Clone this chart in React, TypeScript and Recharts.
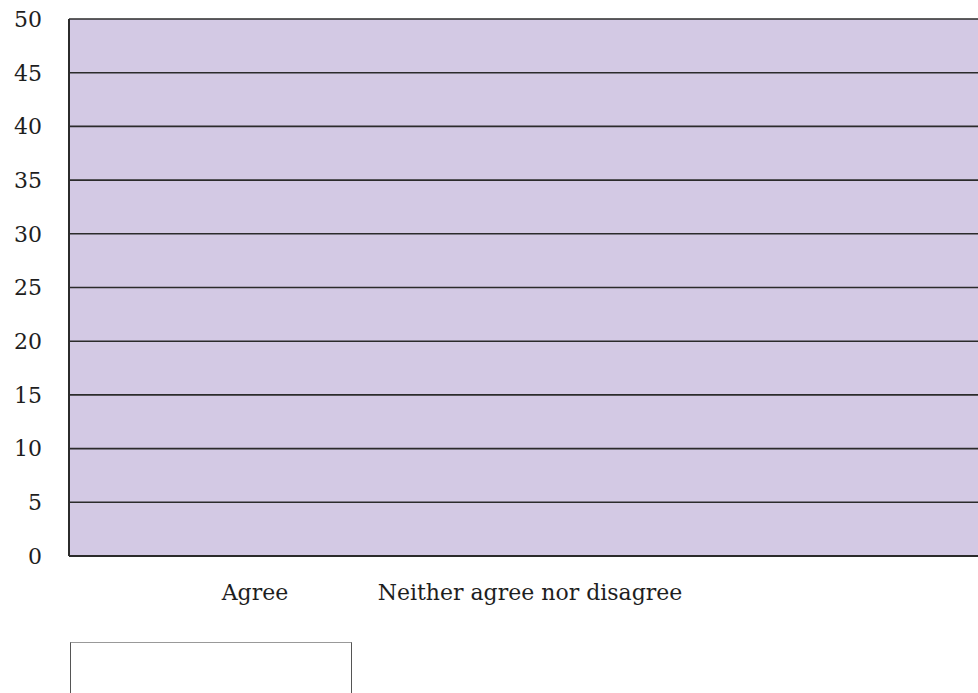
import React from 'react';
import { BarChart, Bar, XAxis, YAxis, CartesianGrid } from 'recharts';

const categories = ['Agree', 'Neither agree nor disagree'];
const responses = [0, 0];
const yTicks = [0, 5, 10, 15, 20, 25, 30, 35, 40, 45, 50];

const data = categories.map((name, i) => ({ name, responses: responses[i] }));

const FONT = '"DejaVu Serif", serif';
const INK = '#1e1e1e';
const LINE = '#2b2b2b';

export default function App() {
  return (
    <div
      style={{
        position: 'fixed',
        left: 8,
        top: 8,
        width: 970,
        height: 685,
        overflow: 'hidden',
        background: '#ffffff',
      }}
    >
      <BarChart
        width={1020}
        height={620}
        data={data}
        margin={{ top: 11, right: 0, bottom: 12, left: 0 }}
      >
        <CartesianGrid
          vertical={false}
          stroke={LINE}
          strokeWidth={1.6}
          strokeOpacity={1}
          fill="#d3c9e4"
          fillOpacity={1}
        />
        <XAxis
          dataKey="name"
          height={60}
          padding={{ left: 48.5, right: 360.5 }}
          axisLine={{ stroke: LINE, strokeWidth: 2 }}
          tickLine={false}
          tickSize={0}
          tickMargin={28}
          interval={0}
          tick={{ fill: INK, fontSize: 22, fontFamily: FONT }}
        />
        <YAxis
          width={61}
          domain={[0, 50]}
          ticks={yTicks}
          interval={0}
          axisLine={{ stroke: LINE, strokeWidth: 2 }}
          tickLine={false}
          tickSize={0}
          tickMargin={27}
          tick={{ fill: INK, fontSize: 22, fontFamily: FONT }}
        />
        <Bar dataKey="responses" fill="#7b5ea7" isAnimationActive={false} />
      </BarChart>
      <div
        style={{
          marginTop: 14,
          marginLeft: 62,
          width: 280,
          height: 80,
          border: '1px solid #555',
          borderTopColor: '#999',
          background: '#ffffff',
        }}
      />
    </div>
  );
}
